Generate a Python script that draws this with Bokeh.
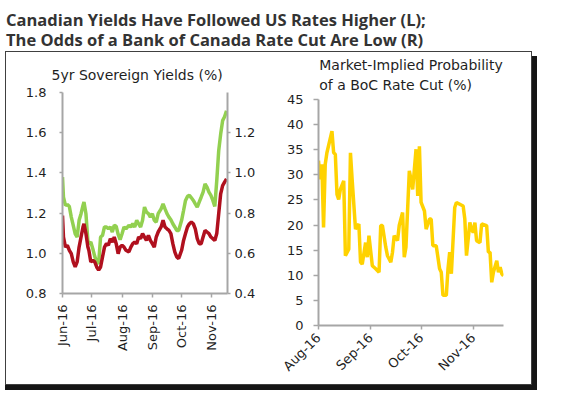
import numpy as np
import pandas as pd
from bokeh.plotting import figure
from bokeh.models import (Range1d, LinearAxis, MonthsTicker, DatetimeTickFormatter,
                          SingleIntervalTicker, PrintfTickFormatter, Legend, LegendItem,
                          ColumnDataSource, Spacer)
from bokeh.layouts import column, row
from bokeh.core.properties import value
from bokeh.embed import file_html
from bokeh.resources import INLINE

# ---------------- data ----------------
title_lines = ["Canadian Yields Have Followed US Rates Higher (L);",
               "The Odds of a Bank of Canada Rate Cut Are Low (R)"]
left_title = "5yr Sovereign Yields (%)"
right_title = "Market-Implied Probability\nof a BoC Rate Cut (%)"
legend_labels = ["US", "Canada (RHS)"]

yield_start = "2016-06-01"
yield_end = "2016-11-17"
yield_days = [0, 1, 3, 5, 7, 9, 11, 13, 15, 17, 19, 21, 22, 24, 26, 27, 29, 31, 33, 35,
              37, 39, 41, 43, 45, 47, 49, 51, 53, 55, 57, 59, 61, 63, 65, 68, 70, 72, 74, 76,
              78, 80, 82, 84, 86, 88, 90, 92, 94, 96, 98, 101, 103, 105, 107, 109, 111, 113, 115, 117,
              119, 122, 124, 126, 128, 130, 132, 134, 136, 138, 140, 142, 144, 146, 148, 150, 152, 154, 156, 158,
              160, 162, 164, 166, 168]
us_5yr = [1.379, 1.279, 1.238, 1.243, 1.233, 1.180, 1.139, 1.097, 1.081, 1.164,
          1.197, 1.238, 1.255, 1.197, 1.061, 1.048, 1.056, 1.023, 0.985, 0.957,
          0.949, 1.081, 1.089, 1.131, 1.131, 1.122, 1.131, 1.106, 1.139, 1.134,
          1.094, 1.068, 1.097, 1.131, 1.122, 1.139, 1.131, 1.147, 1.131, 1.164,
          1.147, 1.131, 1.164, 1.230, 1.205, 1.197, 1.180, 1.197, 1.164, 1.155,
          1.197, 1.221, 1.246, 1.221, 1.197, 1.180, 1.167, 1.147, 1.131, 1.114,
          1.114, 1.164, 1.213, 1.263, 1.283, 1.288, 1.276, 1.263, 1.246, 1.230,
          1.255, 1.279, 1.304, 1.345, 1.329, 1.304, 1.288, 1.263, 1.233, 1.362,
          1.511, 1.593, 1.660, 1.679, 1.709]
canada_5yr = [0.788, 0.681, 0.631, 0.640, 0.615, 0.598, 0.557, 0.532, 0.557, 0.631,
              0.681, 0.731, 0.747, 0.698, 0.631, 0.615, 0.557, 0.565, 0.557, 0.532,
              0.516, 0.532, 0.582, 0.631, 0.648, 0.640, 0.673, 0.656, 0.681, 0.648,
              0.598, 0.631, 0.640, 0.631, 0.615, 0.607, 0.631, 0.648, 0.656, 0.648,
              0.681, 0.673, 0.698, 0.681, 0.664, 0.689, 0.664, 0.648, 0.631, 0.681,
              0.706, 0.731, 0.764, 0.731, 0.722, 0.714, 0.698, 0.648, 0.607, 0.582,
              0.574, 0.615, 0.664, 0.698, 0.731, 0.747, 0.755, 0.747, 0.722, 0.673,
              0.648, 0.648, 0.681, 0.714, 0.706, 0.698, 0.681, 0.673, 0.664, 0.698,
              0.797, 0.896, 0.937, 0.954, 0.970]

prob_start = "2016-08-01"
prob_end = "2016-11-19"
prob_days = [0, 1, 2, 3, 4, 5, 8, 9, 10, 11, 12, 13, 15, 16, 18, 19, 20, 22, 24, 25,
             26, 28, 29, 30, 32, 34, 36, 37, 38, 40, 41, 43, 44, 45, 47, 48, 50, 51, 52, 54,
             55, 56, 58, 59, 60, 61, 63, 64, 66, 67, 68, 70, 72, 73, 74, 76, 77, 78, 79, 81,
             82, 86, 87, 88, 90, 91, 92, 93, 94, 96, 97, 100, 101, 102, 103, 104, 106, 107, 108, 109,
             110]
boc_cut_prob = [32.8, 29.1, 32.1, 19.5, 32.1, 34.4, 38.7, 34.4, 34.1, 26.1,
                25.1, 27.1, 28.8, 13.9, 15.2, 34.4, 29.1, 19.2, 20.2, 12.6,
                12.2, 16.5, 13.6, 17.9, 11.9, 11.3, 10.6, 19.9, 19.9, 15.6,
                13.9, 12.6, 14.6, 17.9, 16.9, 19.9, 22.5, 13.6, 15.6, 30.8,
                29.1, 27.1, 35.1, 25.8, 35.7, 24.5, 22.8, 19.2, 21.2, 21.2,
                15.9, 15.9, 11.3, 10.6, 6.0, 6.0, 11.3, 14.6, 10.3, 23.5,
                24.5, 23.8, 21.2, 13.9, 20.5, 19.2, 18.5, 20.5, 16.9, 16.5,
                20.2, 19.9, 14.6, 14.6, 8.6, 10.6, 12.9, 10.6, 11.6, 10.3,
                9.9]

# ---------------- styling ----------------
US_COLOR = "#92D050"
CA_COLOR = "#B0101E"
PROB_COLOR = "#FFD200"
AXIS_COLOR = "#a6a6a6"
TEXT_COLOR = "#1f1f1f"
FONT = "DejaVu Sans"
BORDER = "1px solid #404040"


def style_axis(ax, standoff, tick_out):
    ax.axis_line_color = AXIS_COLOR
    ax.axis_line_width = 2
    ax.major_tick_line_color = AXIS_COLOR
    ax.major_tick_line_width = 1.5
    ax.major_tick_out = tick_out
    ax.major_tick_in = 0
    ax.minor_tick_line_color = None
    ax.major_label_text_font = FONT
    ax.major_label_text_font_size = "13px"
    ax.major_label_text_color = TEXT_COLOR
    ax.major_label_standoff = standoff


def style_title(t, align, offset, standoff):
    t.text_font = FONT
    t.text_font_size = "14px"
    t.text_font_style = "normal"
    t.text_color = TEXT_COLOR
    t.align = align
    t.offset = offset
    t.vertical_align = "top"
    t.standoff = standoff


def dates(start, days):
    return pd.to_datetime(np.datetime64(start) + np.array(days).astype("timedelta64[D]"))


# ---------------- main title ----------------
tf = figure(width=545, height=51, x_range=Range1d(0, 545), y_range=Range1d(51, 0),
            output_backend="svg", toolbar_location=None, min_border=0,
            x_axis_location=None, y_axis_location=None)
tf.frame_align = False
tf.grid.visible = False
tf.outline_line_color = None
tf.text(x=[5.5, 5.5], y=[19, 39], text=title_lines, text_font=value("Open Sans"),
        text_font_style="bold", text_font_size="16.5px", text_color="#333333",
        text_baseline="alphabetic", text_align="left")

# ---------------- left chart ----------------
lsrc = ColumnDataSource(dict(x=dates(yield_start, yield_days), us=us_5yr, ca=canada_5yr))
lf = figure(width=265, height=334, x_axis_type="datetime",
            x_range=Range1d(pd.Timestamp(yield_start), pd.Timestamp(yield_end)),
            y_range=Range1d(0.8, 1.8), output_backend="svg", toolbar_location=None,
            min_border_left=56, min_border_right=44, min_border_top=40, min_border_bottom=93,
            title=left_title,
            styles={"border-left": BORDER, "border-top": BORDER, "border-bottom": BORDER,
                    "box-shadow": "0px 5px 0px #151515"})
lf.frame_align = False
lf.extra_y_ranges = {"rhs": Range1d(0.4, 1.4)}
lf.grid.visible = False
lf.outline_line_color = None
style_title(lf.title, "left", -11, 16)

r_us = lf.line("x", "us", source=lsrc, line_color=US_COLOR, line_width=3.5)
r_ca = lf.line("x", "ca", source=lsrc, line_color=CA_COLOR, line_width=3.5, y_range_name="rhs")

lf.yaxis.ticker = SingleIntervalTicker(interval=0.2)
lf.yaxis.formatter = PrintfTickFormatter(format="%.1f")
style_axis(lf.yaxis[0], 12, 3)
rax = LinearAxis(y_range_name="rhs", ticker=SingleIntervalTicker(interval=0.2),
                 formatter=PrintfTickFormatter(format="%.1f"))
style_axis(rax, 3, 3)
lf.add_layout(rax, "right")

lf.xaxis.ticker = MonthsTicker(months=list(range(12)))
lf.xaxis.formatter = DatetimeTickFormatter(months="%b-%y", days="%b-%y")
lf.xaxis.major_label_orientation = np.pi / 2
style_axis(lf.xaxis[0], 7, 4)

legend = Legend(items=[LegendItem(label=legend_labels[0], renderers=[r_us]),
                       LegendItem(label=legend_labels[1], renderers=[r_ca])],
                orientation="horizontal", location=(-31, -91), glyph_width=39, glyph_height=14,
                label_standoff=1, spacing=19, border_line_color=None, background_fill_alpha=0,
                label_text_font=FONT, label_text_font_size="13px", label_text_color=TEXT_COLOR,
                padding=2, margin=0)
lf.add_layout(legend, "center")

# ---------------- right chart ----------------
rsrc = ColumnDataSource(dict(x=dates(prob_start, prob_days), p=boc_cut_prob))
rf = figure(width=262, height=334, x_axis_type="datetime",
            x_range=Range1d(pd.Timestamp(prob_start), pd.Timestamp(prob_end)),
            y_range=Range1d(0, 45), output_backend="svg", toolbar_location=None,
            min_border_left=48, min_border_right=29, min_border_top=45, min_border_bottom=61,
            title=right_title,
            styles={"border-right": BORDER, "border-top": BORDER, "border-bottom": BORDER,
                    "box-shadow": "0px 5px 0px #151515, 5px 5px 0px #151515"})
rf.frame_align = False
rf.grid.visible = False
rf.outline_line_color = None
style_title(rf.title, "center", 0, 8)
rf.title.text_line_height = 1.3

rf.line("x", "p", source=rsrc, line_color=PROB_COLOR, line_width=3.5)
rf.yaxis.ticker = SingleIntervalTicker(interval=5)
style_axis(rf.yaxis[0], 10, 5)
rf.xaxis.ticker = MonthsTicker(months=list(range(12)))
rf.xaxis.formatter = DatetimeTickFormatter(months="%b-%y", days="%b-%y")
rf.xaxis.major_label_orientation = np.pi / 4
style_axis(rf.xaxis[0], 6, 4)

p = column(tf, row(Spacer(width=5, height=336), lf, rf))

open("out.html", "w").write(file_html(p, INLINE))
